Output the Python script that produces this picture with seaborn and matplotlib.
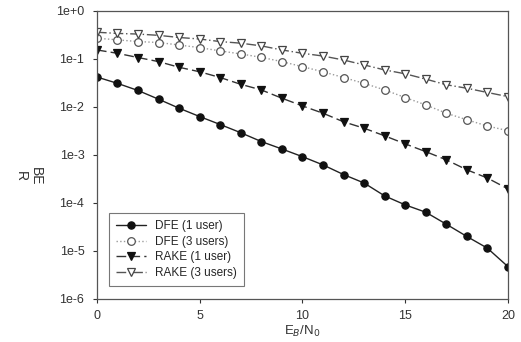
import numpy as np
import pandas as pd
import matplotlib
matplotlib.use("Agg")
import matplotlib.pyplot as plt
from matplotlib.ticker import FuncFormatter
import seaborn as sns

ebn0 = list(range(21))

dfe_1user = [0.042, 0.031, 0.022, 0.0145, 0.0094, 0.0063, 0.0043, 0.0029, 0.0019,
             0.00133, 0.00092, 0.00062, 0.00039, 0.00026, 0.00014, 9.1e-5, 6.4e-5,
             3.6e-5, 2.0e-5, 1.14e-5, 4.7e-6]
dfe_3users = [0.27, 0.25, 0.23, 0.22, 0.195, 0.172, 0.147, 0.127, 0.108, 0.088,
              0.069, 0.054, 0.041, 0.031, 0.0226, 0.0157, 0.011, 0.0074, 0.0054,
              0.004, 0.0032]
rake_1user = [0.154, 0.131, 0.107, 0.088, 0.067, 0.054, 0.041, 0.0296, 0.0226,
              0.0152, 0.0105, 0.0074, 0.0049, 0.0036, 0.0025, 0.0017, 0.00117,
              0.00079, 0.00049, 0.00033, 0.000196]
rake_3users = [0.36, 0.34, 0.33, 0.31, 0.28, 0.26, 0.23, 0.213, 0.187, 0.154, 0.131,
               0.115, 0.095, 0.075, 0.059, 0.049, 0.038, 0.029, 0.0245, 0.02, 0.0164]

labels = ["DFE (1 user)", "DFE (3 users)", "RAKE (1 user)", "RAKE (3 users)"]

sns.set_style("ticks")
plt.rcParams["font.family"] = ["Liberation Sans", "DejaVu Sans"]

fig = plt.figure(figsize=(5.21, 3.42), dpi=100)
ax = fig.add_axes([0.186, 0.126, 0.789, 0.842])

series = [
    (dfe_1user, dict(color="#222222", linestyle="-", marker="o", markerfacecolor="#111111",
                     markeredgecolor="#111111", markersize=5.2)),
    (dfe_3users, dict(color="#9a9a9a", linestyle=":", marker="o", markerfacecolor="white",
                      markeredgecolor="#555555", markersize=5.5)),
    (rake_1user, dict(color="#333333", linestyle=(0, (7, 3)), marker="v", markerfacecolor="#111111",
                      markeredgecolor="#111111", markersize=5.2)),
    (rake_3users, dict(color="#555555", linestyle=(0, (7, 2, 1, 2)), marker="v",
                       markerfacecolor="white", markeredgecolor="#444444", markersize=5.5)),
]

for (vals, kw), lab in zip(series, labels):
    df = pd.DataFrame({"EbN0": ebn0, "BER": vals})
    sns.lineplot(data=df, x="EbN0", y="BER", ax=ax, label=lab, linewidth=1.0,
                 markeredgewidth=0.9, **kw)

ax.set_yscale("log")
ax.set_ylim(1e-6, 1)
ax.set_xlim(0, 20)
ax.set_xticks([0, 5, 10, 15, 20])
ax.set_yticks([10.0 ** k for k in range(-6, 1)])
ax.yaxis.set_minor_locator(matplotlib.ticker.NullLocator())
ax.yaxis.set_major_formatter(FuncFormatter(
    lambda v, p: "1e+0" if v >= 1 else "1e%d" % int(round(np.log10(v)))))
ax.tick_params(axis="both", labelsize=9, colors="#333333", length=3, width=0.8)
ax.tick_params(axis="x", pad=5)
ax.tick_params(axis="y", pad=6)
for s in ax.spines.values():
    s.set_color("#555555")
    s.set_linewidth(0.9)

ax.set_xlabel("E$_B$/N$_0$", fontsize=9.5, color="#333333", labelpad=1)
ax.set_ylabel("")
fig.text(0.054, 0.485, "BE\nR", rotation=270, fontsize=10, color="#333333",
         ha="center", va="center", linespacing=1.1)

leg = ax.legend(loc="lower left", bbox_to_anchor=(0.015, 0.025), fontsize=8.5, frameon=True,
                fancybox=False, edgecolor="#555555", handlelength=2.5, borderpad=0.6,
                labelspacing=0.3)
leg.get_frame().set_linewidth(0.8)

fig.savefig("out.png", dpi=100)
